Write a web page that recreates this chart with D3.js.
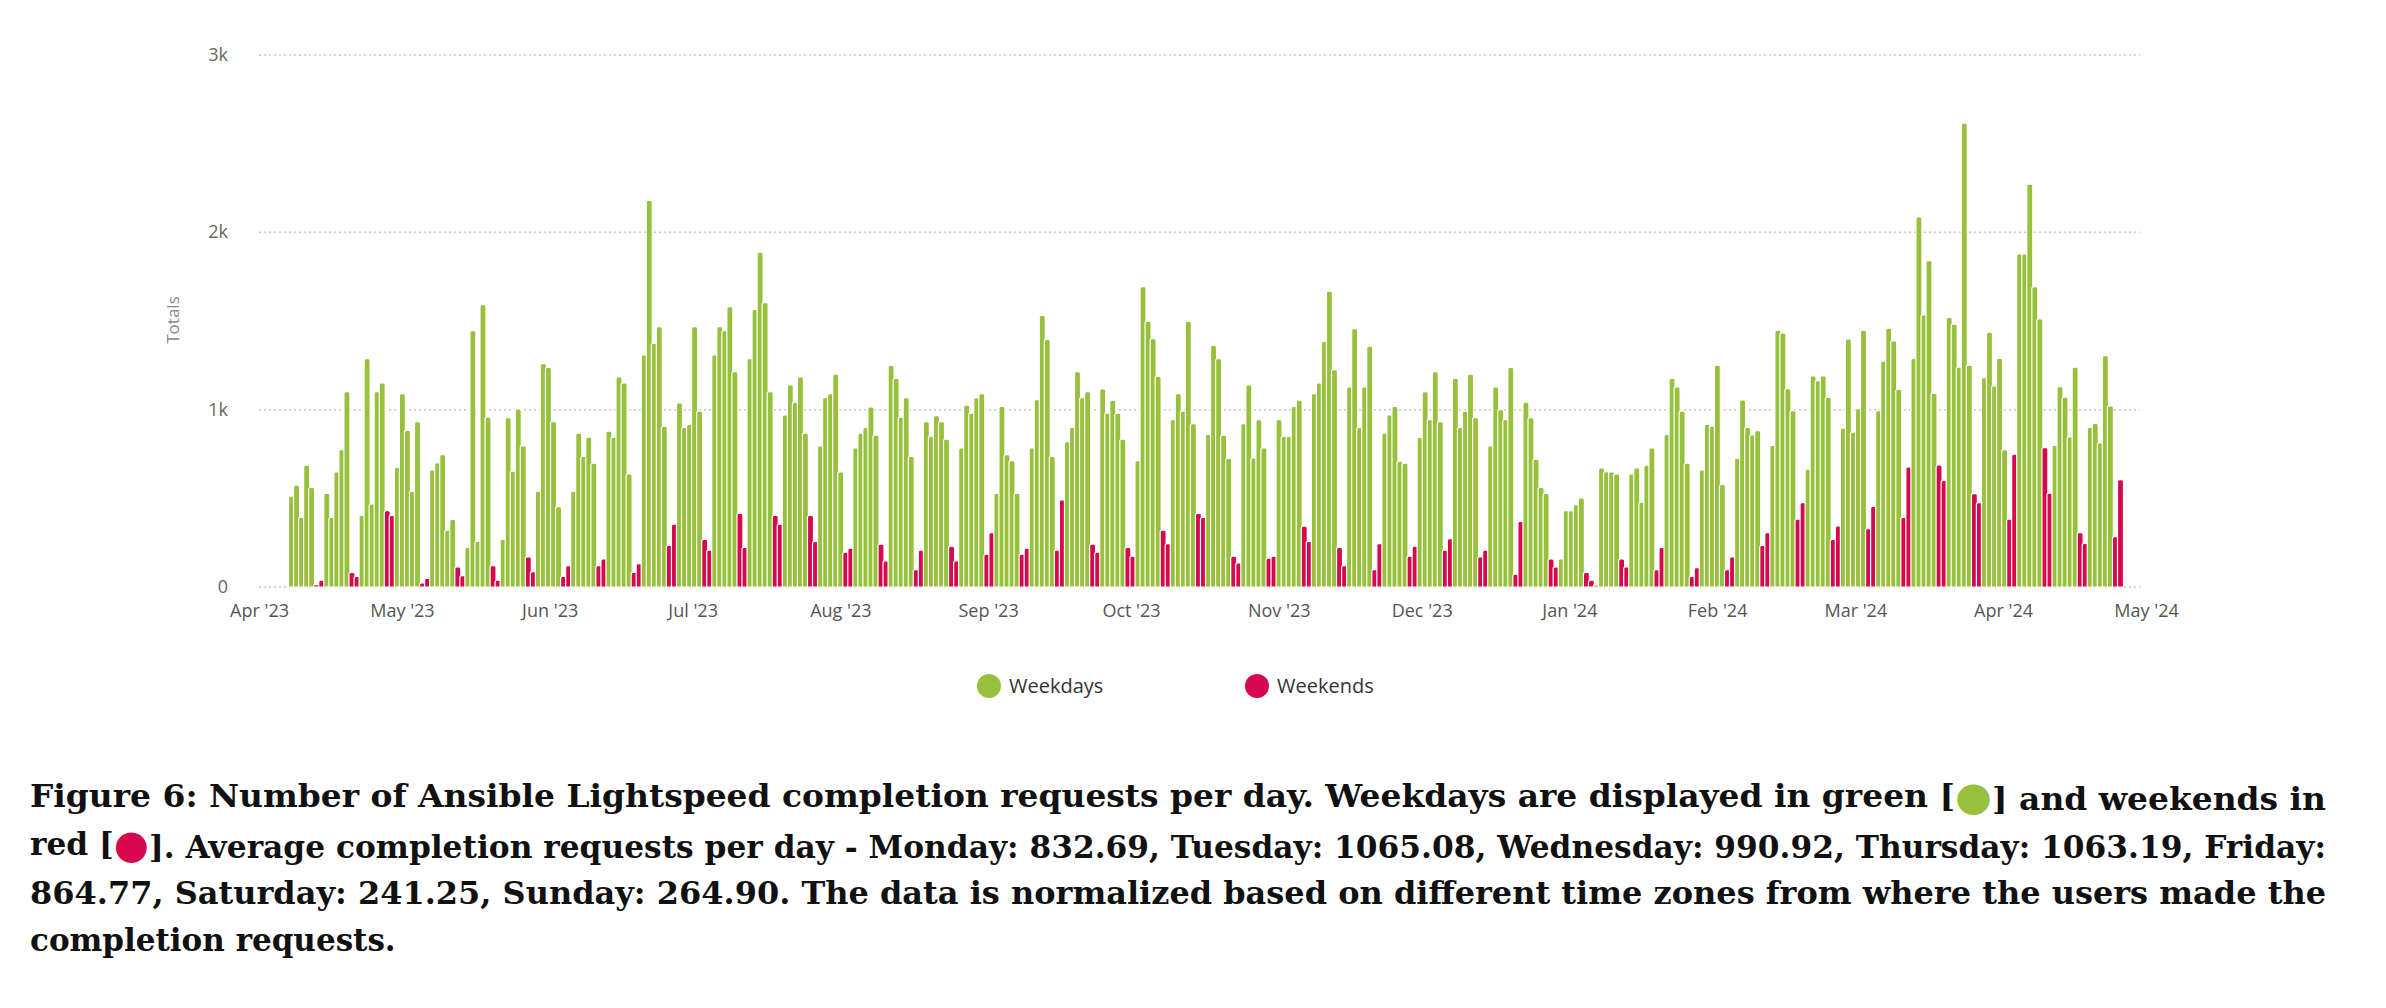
<!DOCTYPE html>
<html>
<head>
<meta charset="utf-8">
<script src="https://cdn.jsdelivr.net/npm/d3@7"></script>
<style>
  body { margin: 0; background: #fff; }
</style>
</head>
<body>
<div id="chart"></div>
<script>
// each week: Mon..Fri totals, then Sat, Sun totals
const weekdayTotals = [
  [513, 574, 392, 687, 562], [528, 392, 649, 774, 1102], [404, 1287, 468, 1102, 1151],
  [675, 1091, 883, 540, 932], [660, 700, 747, 321, 381], [223, 1445, 257, 1592, 958],
  [268, 955, 653, 1004, 796], [540, 1260, 1238, 932, 453], [540, 868, 736, 845, 698],
  [879, 845, 1185, 1151, 638], [1309, 2181, 1374, 1468, 906], [1038, 900, 917, 1468, 992],
  [1309, 1468, 1445, 1581, 1215], [1287, 1566, 1887, 1604, 1102], [970, 1140, 1042, 1185, 868],
  [796, 1068, 1091, 1200, 649], [785, 868, 900, 1015, 857], [1249, 1177, 958, 1068, 736],
  [932, 850, 966, 932, 834], [785, 1026, 981, 1068, 1091], [528, 1019, 747, 713, 528],
  [785, 1057, 1532, 1396, 736], [819, 900, 1215, 1068, 1102], [1117, 981, 1053, 981, 834],
  [713, 1694, 1498, 1400, 1189], [943, 1091, 992, 1498, 921], [860, 1362, 1287, 857, 725],
  [921, 1140, 728, 943, 785], [943, 849, 849, 1019, 1053], [1091, 1151, 1385, 1668, 1226],
  [1128, 1457, 900, 1128, 1358], [868, 970, 1019, 709, 698], [845, 1102, 943, 1215, 932],
  [1177, 900, 992, 1200, 955], [796, 1128, 1000, 943, 1238], [1042, 955, 721, 562, 528],
  [158, 430, 430, 464, 502], [13, 672, 650, 649, 638], [638, 672, 479, 687, 785],
  [860, 1177, 1128, 992, 698], [660, 917, 907, 1251, 578], [726, 1055, 900, 858, 881],
  [798, 1448, 1433, 1119, 994], [665, 1191, 1164, 1191, 1070], [896, 1399, 873, 1006, 1448],
  [994, 1274, 1459, 1388, 1115], [1289, 2087, 1535, 1841, 1093], [1520, 1482, 1240, 2616, 1251],
  [1180, 1437, 1134, 1289, 775], [1879, 1879, 2272, 1694, 1512], [798, 1130, 1070, 847, 1240],
  [900, 922, 813, 1304, 1021]
];
const weekendTotals = [
  [13, 38], [83, 60], [430, 404], [23, 49], [113, 64], [121, 38], [170, 87], [60, 121],
  [121, 158], [83, 132], [234, 355], [268, 208], [415, 223], [404, 355], [404, 257], [196, 219],
  [242, 147], [98, 208], [230, 147], [185, 306], [185, 219], [208, 491], [242, 196], [223, 174],
  [321, 245], [415, 392], [174, 136], [162, 174], [343, 257], [223, 121], [98, 245], [174, 230],
  [208, 272], [170, 208], [72, 370], [158, 113], [83, 38], [158, 113], [98, 223], [60, 109],
  [98, 170], [234, 306], [382, 476], [268, 344], [329, 454], [393, 677], [688, 601], [526, 476],
  [382, 749], [786, 529], [306, 246], [284, 605]
];
const startDate = new Date(2023, 3, 10); // first Monday with data
const yTicks = [0, 1000, 2000, 3000];
const yTickLabels = ["0", "1k", "2k", "3k"];
const axisMonths = d3.timeMonths(new Date(2023, 3, 1), new Date(2024, 4, 2));
const seriesNames = ["Weekdays", "Weekends"];
const seriesColors = ["#97c03c", "#d6084f"];
const captionLines = [
  ["Figure 6: Number of Ansible Lightspeed completion requests per day. Weekdays are displayed in green [", 0, "] and weekends in"],
  ["red [", 1, "]. Average completion requests per day - Monday: 832.69, Tuesday: 1065.08, Wednesday: 990.92, Thursday: 1063.19, Friday:"],
  ["864.77, Saturday: 241.25, Sunday: 264.90. The data is normalized based on different time zones from where the users made the"],
  ["completion requests."]
];

const days = [];
weekdayTotals.forEach((wk, w) => {
  const vals = wk.concat(weekendTotals[w]);
  vals.forEach((v, d) => {
    days.push({ date: d3.timeDay.offset(startDate, w * 7 + d), value: v, weekend: d >= 5 ? 1 : 0 });
  });
});

const W = 2386, H = 1008;
const svg = d3.select("#chart").append("svg").attr("width", W).attr("height", H)
  .style("font-family", "'Open Sans', 'Liberation Sans', sans-serif");

const y = d3.scaleLinear().domain([0, 3000]).range([587, 55]);
const xAxisScale = d3.scaleTime().domain([new Date(2023, 3, 1), new Date(2024, 4, 1)]).range([259, 2146]);
const xBar = d3.scaleBand().domain(days.map(d => +d.date)).range([289, 2123]).padding(0);

// gridlines
svg.append("g").selectAll("line").data(yTicks).enter().append("line")
  .attr("x1", 259).attr("x2", 2140)
  .attr("y1", d => y(d)).attr("y2", d => y(d))
  .attr("stroke", "#c8c8c8").attr("stroke-width", 1.5).attr("stroke-dasharray", "2,3");

svg.append("g").selectAll("text").data(yTicks).enter().append("text")
  .attr("x", 228).attr("y", d => y(d) + 6)
  .attr("text-anchor", "end").attr("font-size", 18).attr("fill", "#666")
  .text((d, i) => yTickLabels[i]);

svg.append("text").attr("transform", "translate(179,320) rotate(-90)")
  .attr("text-anchor", "middle").attr("font-size", 17).attr("fill", "#888").text("Totals");

// x axis
const xAxis = d3.axisBottom(xAxisScale).tickValues(axisMonths)
  .tickFormat(d => d3.timeFormat("%b '%y")(d)).tickSize(0).tickPadding(14);
const gx = svg.append("g").attr("transform", "translate(0,590)").call(xAxis);
gx.select(".domain").remove();
gx.selectAll("text").attr("font-size", 18).attr("fill", "#555")
  .style("font-family", "'Open Sans', 'Liberation Sans', sans-serif");

// bars
const bw = 6;
svg.append("g").selectAll("path").data(days).enter().append("path")
  .attr("d", d => {
    const x0 = xBar(+d.date) + xBar.bandwidth() / 2 - bw / 2;
    const y0 = y(d.value), y1 = y(0);
    const r = Math.min(2, (y1 - y0) / 2);
    return `M${x0},${y1}V${y0 + r}Q${x0},${y0} ${x0 + r},${y0}H${x0 + bw - r}Q${x0 + bw},${y0} ${x0 + bw},${y0 + r}V${y1}Z`;
  })
  .attr("fill", d => seriesColors[d.weekend])
  .attr("stroke", "#fff").attr("stroke-width", 1.2);

// legend
const legendX = [989, 1257];
const lg = svg.append("g").selectAll("g").data(seriesNames).enter().append("g")
  .attr("transform", (d, i) => `translate(${legendX[i]},686)`);
lg.append("circle").attr("r", 12).attr("fill", (d, i) => seriesColors[i]);
lg.append("text").attr("x", 20).attr("y", 7).attr("font-size", 20).attr("fill", "#333").text(d => d);

// caption
const capY = [807, 855, 904, 951];
captionLines.forEach((parts, i) => {
  const t = svg.append("text").attr("x", 30).attr("y", capY[i])
    .attr("font-family", "'DejaVu Serif', 'Liberation Serif', serif")
    .attr("font-weight", "bold").attr("font-size", 31).attr("fill", "#111");
  if (i < 3) t.attr("textLength", 2296).attr("lengthAdjust", "spacingAndGlyphs");
  parts.forEach(p => {
    if (typeof p === "number") t.append("tspan").attr("fill", seriesColors[p]).attr("font-size", 40).attr("dy", 3).text("●")
      .clone(false);
    else t.append("tspan").attr("dy", 0).attr("font-size", 31).text(p);
  });
  t.selectAll("tspan").filter(function () { return this.previousSibling && this.previousSibling.textContent === "●"; }).attr("dy", -3);
});
</script>
</body>
</html>
